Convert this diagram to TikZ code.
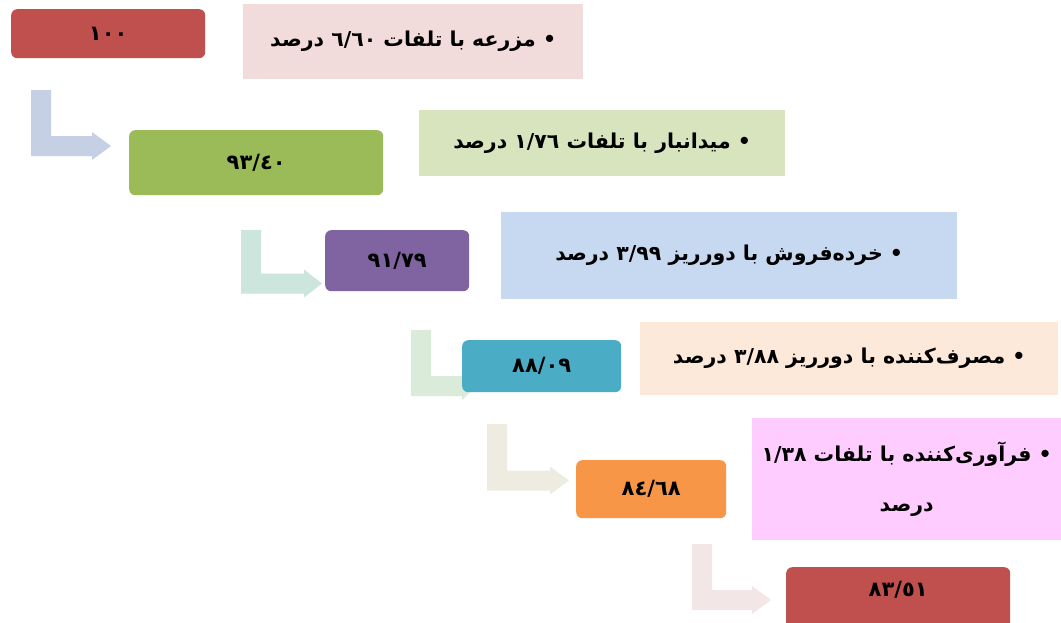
\documentclass[tikz,border=0pt]{standalone}
\usepackage{fontspec}
\newfontfamily\fa[Script=Arabic,BoldFont={DejaVu Sans Bold}]{DejaVu Sans}
\TeXXeTstate=1
\definecolor{cred}{HTML}{C0504D}
\definecolor{cgreen}{HTML}{9BBB59}
\definecolor{cpurple}{HTML}{8064A2}
\definecolor{cteal}{HTML}{4BACC6}
\definecolor{corange}{HTML}{F79646}
\definecolor{tpink}{HTML}{F2DCDB}
\definecolor{tgreen}{HTML}{D7E4BD}
\definecolor{tblue}{HTML}{C6D9F1}
\definecolor{tpeach}{HTML}{FDE9D9}
\definecolor{tmagenta}{HTML}{FFCCFF}
\definecolor{aone}{HTML}{C6D0E4}
\definecolor{atwo}{HTML}{CCE6DE}
\definecolor{athree}{HTML}{DAEBD9}
\definecolor{afour}{HTML}{EEECE1}
\definecolor{afive}{HTML}{F2E6E6}
% bent block arrow: colour, x left, y top, bar centre y, bar end x, tip x
\newcommand\bentarr[6]{%
  \fill[#1] (#2,#3) -- ({#2+20},#3) -- ({#2+20},{#4-10}) -- (#5,{#4-10})
    -- (#5,{#4-14}) -- (#6,#4) -- (#5,{#4+14}) -- (#5,{#4+10})
    -- (#2,{#4+10}) -- cycle;}
\begin{document}
\begin{tikzpicture}[x=1pt,y=-1pt,
  numbox/.style={anchor=north west,rounded corners=6pt,inner sep=0pt,
    font=\fa\bfseries\fontsize{21}{24}\selectfont,text=black},
  txtbox/.style={anchor=north west,inner sep=0pt,
    font=\fa\bfseries\fontsize{20.5}{24}\selectfont,text=black,align=center}]
\useasboundingbox[fill=white] (0,0) rectangle (1061,622);
% connectors (bent block arrows)
\bentarr{aone}{31}{90}{146}{92}{111}
\bentarr{atwo}{241}{230}{283.5}{304}{322}
\bentarr{athree}{411}{330}{386}{462}{476}
\bentarr{afour}{487}{424}{480.5}{550}{569}
\bentarr{afive}{692}{544}{600}{752}{771}
% value boxes
\node[numbox,fill=cred,minimum width=194pt,minimum height=49pt] (n1) at (11,9) {١٠٠};
\node[numbox,fill=cgreen,minimum width=254pt,minimum height=65pt] (n2) at (129,130) {٩٣/٤٠};
\node[numbox,fill=cpurple,minimum width=144pt,minimum height=61pt] (n3) at (325,230) {٩١/٧٩};
\node[numbox,fill=cteal,minimum width=159pt,minimum height=52pt] (n4) at (462,340) {٨٨/٠٩};
\node[numbox,fill=corange,minimum width=150pt,minimum height=58pt] (n5) at (576,460) {٨٤/٦٨};
\node[numbox,fill=cred,minimum width=224pt,minimum height=70pt] (n6) at (786,567) {\raisebox{26pt}{٨٣/٥١}};
% description boxes
\node[txtbox,fill=tpink,minimum width=340pt,minimum height=75pt] (t1) at (243,4)
  {\beginR • مزرعه با تلفات \beginL ٦/٦٠\endL{} درصد\endR};
\node[txtbox,fill=tgreen,minimum width=366pt,minimum height=66pt] (t2) at (419,110)
  {\beginR • میدانبار با تلفات \beginL ١/٧٦\endL{} درصد\endR};
\node[txtbox,fill=tblue,minimum width=456pt,minimum height=87pt] (t3) at (501,212)
  {\beginR • خرده‌فروش با دورریز \beginL ٣/٩٩\endL{} درصد\endR};
\node[txtbox,fill=tpeach,minimum width=418pt,minimum height=73pt] (t4) at (640,322)
  {\beginR • مصرف‌کننده با دورریز \beginL ٣/٨٨\endL{} درصد\endR};
\node[txtbox,fill=tmagenta,minimum width=309pt,minimum height=122pt] (t5) at (752,418)
  {\beginR • فرآوری‌کننده با تلفات \beginL ١/٣٨\endL\endR\\[26pt]\beginR درصد\endR};
\end{tikzpicture}
\end{document}
